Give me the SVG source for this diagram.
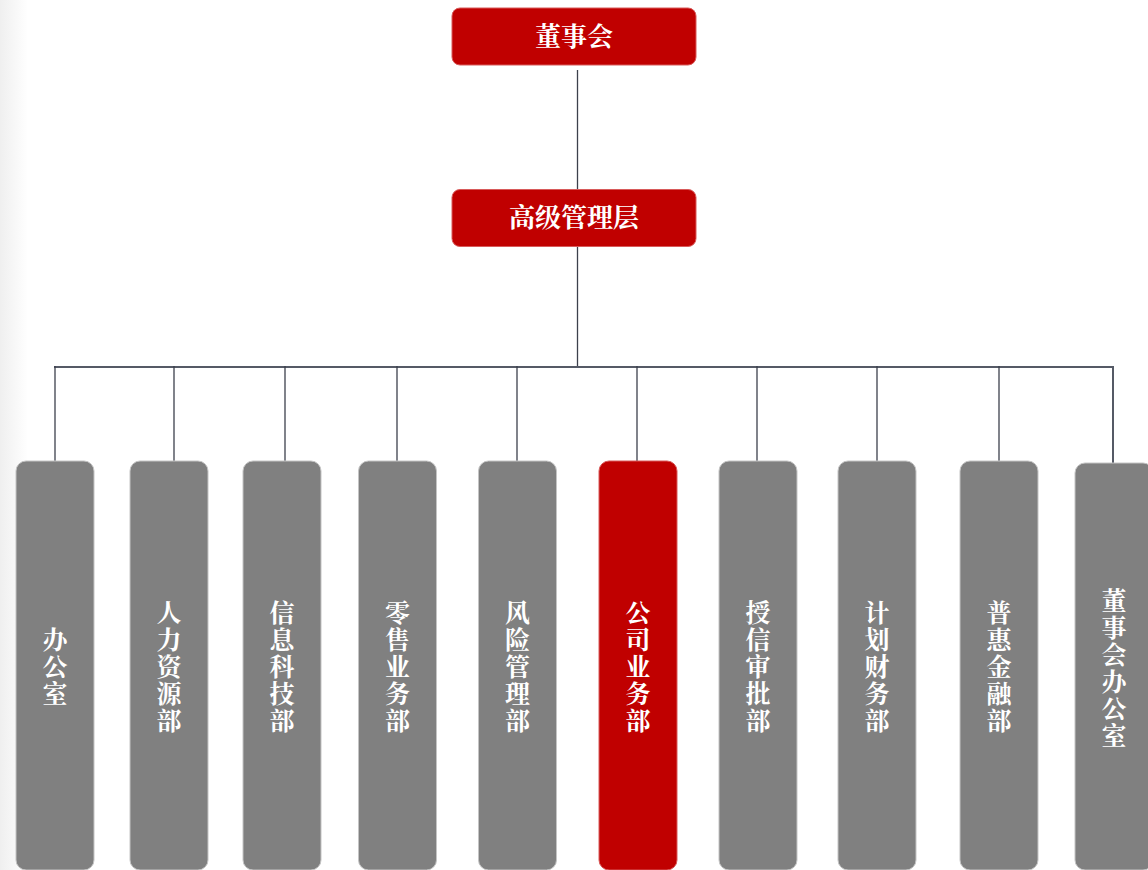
<svg xmlns="http://www.w3.org/2000/svg" width="1148" height="870" viewBox="0 0 1148 870">
<defs>
<linearGradient id="edge" x1="0" y1="0" x2="1" y2="0">
<stop offset="0" stop-color="#efefef"/>
<stop offset="1" stop-color="#ffffff"/>
</linearGradient>
</defs>
<style>
.red{fill:#c00000;stroke:#d85a5a;stroke-width:1}
.gray{fill:#808080;stroke:#c4c4c4;stroke-width:1}
.t{font-family:"Noto Serif CJK SC","Noto Sans CJK SC",serif;font-weight:bold;fill:#ffffff;font-size:26px;text-anchor:middle}
.v{font-family:"Noto Serif CJK SC","Noto Sans CJK SC",serif;font-weight:bold;fill:#ffffff;font-size:25px;text-anchor:middle;writing-mode:vertical-rl;letter-spacing:2px}
.ln{stroke:#3c404c;stroke-width:1.3;fill:none}
.hl{stroke:#555a66;stroke-width:2;fill:none}
</style>
<rect x="0" y="0" width="1148" height="870" fill="#ffffff"/>
<rect x="0" y="0" width="28" height="870" fill="url(#edge)"/>
<g id="connectors">
<line class="ln" x1="577.5" y1="70" x2="577.5" y2="189"/>
<line class="ln" x1="577.5" y1="247" x2="577.5" y2="366"/>
<line class="hl" x1="54" y1="367" x2="1113.5" y2="367"/>
<line class="ln" x1="55" y1="366" x2="55" y2="461"/>
<line class="ln" x1="174" y1="366" x2="174" y2="461"/>
<line class="ln" x1="285" y1="366" x2="285" y2="461"/>
<line class="ln" x1="397" y1="366" x2="397" y2="461"/>
<line class="ln" x1="517" y1="366" x2="517" y2="461"/>
<line class="ln" x1="637" y1="366" x2="637" y2="461"/>
<line class="ln" x1="757" y1="366" x2="757" y2="461"/>
<line class="ln" x1="877" y1="366" x2="877" y2="461"/>
<line class="ln" x1="999" y1="366" x2="999" y2="461"/>
<line class="hl" x1="1113" y1="366" x2="1113" y2="463"/>
</g>
<g id="board">
<rect class="red" x="452" y="8" width="244" height="57" rx="8"/>
<text class="t" x="574" y="46">董事会</text>
</g>
<g id="senior">
<rect class="red" x="452" y="189.5" width="244" height="57" rx="8"/>
<text class="t" x="574" y="227">高级管理层</text>
</g>
<g id="d1">
<rect class="gray" x="16" y="461" width="78" height="409" rx="10"/>
<text class="v" x="55" y="667">办公室</text>
</g>
<g id="d2">
<rect class="gray" x="130" y="461" width="78" height="409" rx="10"/>
<text class="v" x="169" y="667">人力资源部</text>
</g>
<g id="d3">
<rect class="gray" x="243" y="461" width="78" height="409" rx="10"/>
<text class="v" x="282" y="667">信息科技部</text>
</g>
<g id="d4">
<rect class="gray" x="358.5" y="461" width="78" height="409" rx="10"/>
<text class="v" x="397.5" y="667">零售业务部</text>
</g>
<g id="d5">
<rect class="gray" x="478.5" y="461" width="78" height="409" rx="10"/>
<text class="v" x="517.5" y="667">风险管理部</text>
</g>
<g id="d6">
<rect class="red" x="599" y="461" width="78" height="409" rx="10"/>
<text class="v" x="638" y="667">公司业务部</text>
</g>
<g id="d7">
<rect class="gray" x="719" y="461" width="78" height="409" rx="10"/>
<text class="v" x="758" y="667">授信审批部</text>
</g>
<g id="d8">
<rect class="gray" x="838" y="461" width="78" height="409" rx="10"/>
<text class="v" x="877" y="667">计划财务部</text>
</g>
<g id="d9">
<rect class="gray" x="960" y="461" width="78" height="409" rx="10"/>
<text class="v" x="999" y="667">普惠金融部</text>
</g>
<g id="d10">
<rect class="gray" x="1075" y="463" width="78" height="407" rx="10"/>
<text class="v" x="1114" y="669">董事会办公室</text>
</g>
</svg>
